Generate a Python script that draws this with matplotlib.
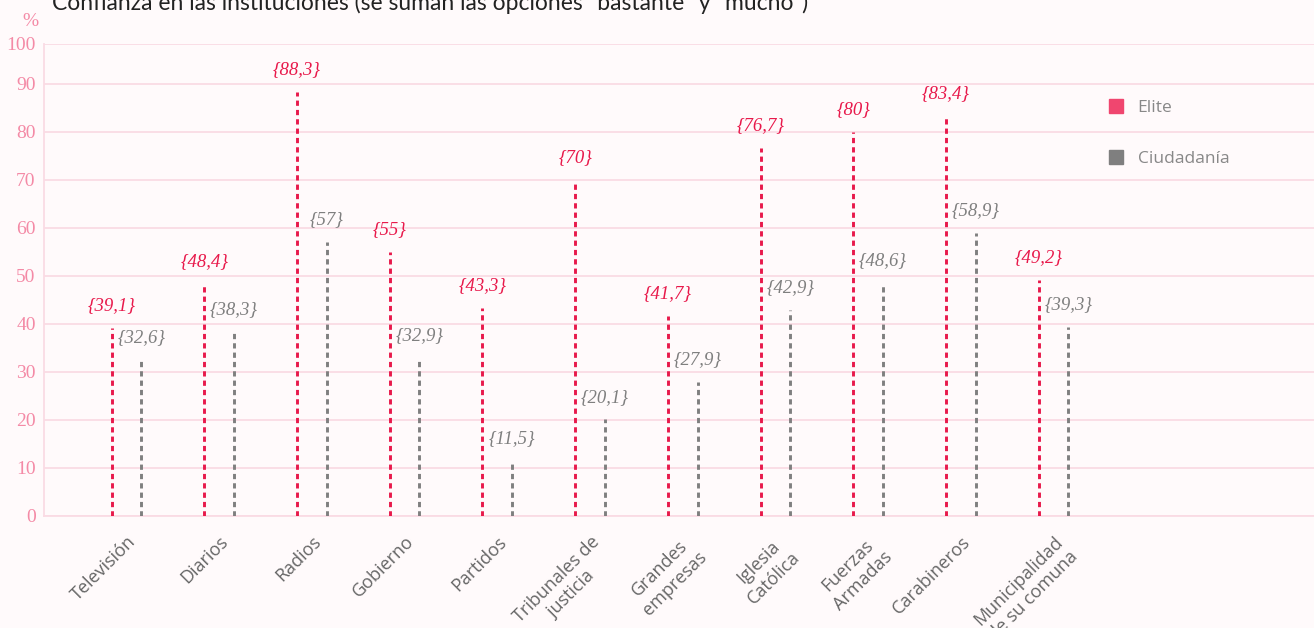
import matplotlib
matplotlib.use("Agg")
import matplotlib.pyplot as plt
from matplotlib.lines import Line2D
import numpy as np

# data
categories = ["Televisión", "Diarios", "Radios", "Gobierno", "Partidos",
              "Tribunales de\njusticia", "Grandes\nempresas", "Iglesia\nCatólica",
              "Fuerzas\nArmadas", "Carabineros", "Municipalidad\nde su comuna"]
elite = [39.1, 48.4, 88.3, 55, 43.3, 70, 41.7, 76.7, 80, 83.4, 49.2]
ciudadania = [32.6, 38.3, 57, 32.9, 11.5, 20.1, 27.9, 42.9, 48.6, 58.9, 39.3]
series_names = ["Elite", "Ciudadanía"]
y_labels = ["0", "10", "20", "30", "40", "50", "60", "70", "80", "90", "100"]

TITLE = 'Confianza en las instituciones (se suman las opciones "bastante" y "mucho")'

BG = "#fffafb"
RED = "#e8194b"
RED_LEG = "#f0466f"
GRAY = "#7f7f7f"
PINK = "#f48aa6"
GRID = "#fadbe4"

# in the original the top line labelled 100 sits a little below 100
Y_TOP = 98.3


def fmt(v):
    # comma as decimal separator, no decimals for whole numbers
    if float(v).is_integer():
        s = str(int(v))
    else:
        s = ("%.1f" % v).replace(".", ",")
    return "{" + s + "}"


fig = plt.figure(figsize=(13.14, 6.28), dpi=100, facecolor=BG)
ax = fig.add_axes([44 / 1314, 112 / 628, 1 - 44 / 1314, 472 / 628])
ax.set_facecolor(BG)

x = np.arange(len(categories))
off = 0.16
dash = (0, (1.8, 1.4))

ax.vlines(x - off, 0, elite, colors=RED, linewidth=2.1, linestyles=[dash], zorder=3)
ax.vlines(x + off, 0, ciudadania, colors=GRAY, linewidth=2.1, linestyles=[dash], zorder=3)

for xi, v in zip(x - off, elite):
    ax.annotate(fmt(v), (xi, v), xytext=(0, 16), textcoords="offset points",
                ha="center", va="center", fontsize=13.5, style="italic",
                family="Liberation Serif", color=RED)
for xi, v in zip(x + off, ciudadania):
    ax.annotate(fmt(v), (xi, v), xytext=(0, 16), textcoords="offset points",
                ha="center", va="center", fontsize=13.5, style="italic",
                family="Liberation Serif", color=GRAY)

ax.set_xlim(-0.89, 12.81)
ax.set_ylim(0, Y_TOP)
ax.set_yticks(list(range(0, 100, 10)) + [Y_TOP])
ax.set_yticklabels(y_labels, family="Liberation Serif", fontsize=14, color=PINK)
ax.set_xticks(x)
ax.set_xticklabels(categories, rotation=45, ha="right", va="top",
                   rotation_mode="anchor", fontsize=13, family="Open Sans",
                   color="#666666", multialignment="center", linespacing=1.25)
ax.tick_params(axis="both", length=0)
ax.tick_params(axis="y", pad=6)
ax.tick_params(axis="x", pad=12)

ax.grid(axis="y", color=GRID, linewidth=1.3, zorder=0)
ax.set_axisbelow(True)
for side in ["top", "right"]:
    ax.spines[side].set_visible(False)
ax.spines["left"].set_color(GRID)
ax.spines["bottom"].set_color(GRID)
ax.spines["left"].set_linewidth(1.3)
ax.spines["bottom"].set_linewidth(1.3)

handles = [Line2D([], [], marker="s", linestyle="none", markersize=10,
                  color=c) for c in [RED_LEG, GRAY]]
leg = ax.legend(handles, series_names, loc="upper left",
                bbox_to_anchor=(0.818, 0.915), frameon=False,
                handletextpad=0.25, labelspacing=2.0,
                prop={"family": "Open Sans", "size": 12.5})
for t in leg.get_texts():
    t.set_color("#888888")

fig.text(30 / 1314, 1 - 22 / 628, "%", ha="center", va="center",
         family="Liberation Serif", fontsize=14, color=PINK)
fig.text(52 / 1314, 1 - 10 / 628, TITLE, ha="left", va="baseline",
         family="Lato", fontsize=16.5, color="#222222")

fig.savefig("out.png", dpi=100, facecolor=BG)
